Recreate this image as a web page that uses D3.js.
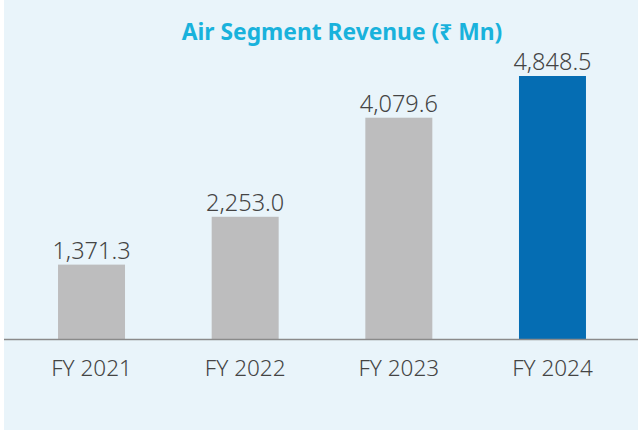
<!DOCTYPE html>
<html>
<head>
<meta charset="utf-8">
<script src="https://cdn.jsdelivr.net/npm/d3@7"></script>
<style>
    body { margin: 0; background: #ffffff; }
    svg { display: block; }
</style>
</head>
<body>
<svg id="chart" width="638" height="430"></svg>
<script>
// chart data
const years = ["FY 2021", "FY 2022", "FY 2023", "FY 2024"];
const revenue = [1371.3, 2253.0, 4079.6, 4848.5];
const barColors = ["#bdbdbe", "#bdbdbe", "#bdbdbe", "#056db3"];
const title = "Air Segment Revenue (₹ Mn)";

const width = 638, height = 430;
const margin = { top: 76, bottom: 91, left: 14.7, right: 8.7 };
const svg = d3.select("#chart");

// panel background
svg.append("rect")
    .attr("x", 4)
    .attr("y", 0)
    .attr("width", width - 4)
    .attr("height", height)
    .attr("fill", "#e9f4fa");

// scales
const x = d3.scaleBand()
    .domain(years)
    .range([margin.left, width - margin.right])
    .paddingInner(0.564)
    .paddingOuter(0.282);
const y = d3.scaleLinear()
    .domain([0, d3.max(revenue)])
    .range([height - margin.bottom, margin.top]);

const data = years.map((d, i) => ({ year: d, value: revenue[i], color: barColors[i] }));

// bars
svg.selectAll(".bar")
    .data(data)
    .join("rect")
    .attr("class", "bar")
    .attr("x", d => x(d.year))
    .attr("y", d => y(d.value))
    .attr("width", x.bandwidth())
    .attr("height", d => y(0) - y(d.value))
    .attr("fill", d => d.color);

// value labels
svg.selectAll(".value")
    .data(data)
    .join("text")
    .attr("class", "value")
    .attr("x", d => x(d.year) + x.bandwidth() / 2)
    .attr("y", d => y(d.value) - 6)
    .attr("text-anchor", "middle")
    .attr("font-family", "Noto Sans")
    .attr("font-weight", 300)
    .attr("font-size", 23.5)
    .attr("fill", "#444")
    .text(d => d3.format(",.1f")(d.value));

// category labels
const axis = svg.append("g")
    .attr("transform", `translate(0, ${y(0)})`)
    .call(d3.axisBottom(x).tickSize(0).tickPadding(0));
axis.select(".domain").remove();
axis.selectAll(".tick text")
    .attr("dy", 0)
    .attr("y", 37)
    .attr("font-family", "Noto Sans")
    .attr("font-weight", 300)
    .attr("font-size", 22.5)
    .attr("fill", "#444");

// baseline
svg.append("line")
    .attr("x1", 4)
    .attr("x2", width)
    .attr("y1", y(0) + 0.5)
    .attr("y2", y(0) + 0.5)
    .attr("stroke", "#8a8a8a")
    .attr("stroke-width", 1.5);

// title
svg.append("text")
    .attr("x", 342)
    .attr("y", 40)
    .attr("text-anchor", "middle")
    .attr("font-family", "Noto Sans")
    .attr("font-weight", 700)
    .attr("font-size", 22.8)
    .attr("fill", "#19b2dc")
    .text(title);
</script>
</body>
</html>
